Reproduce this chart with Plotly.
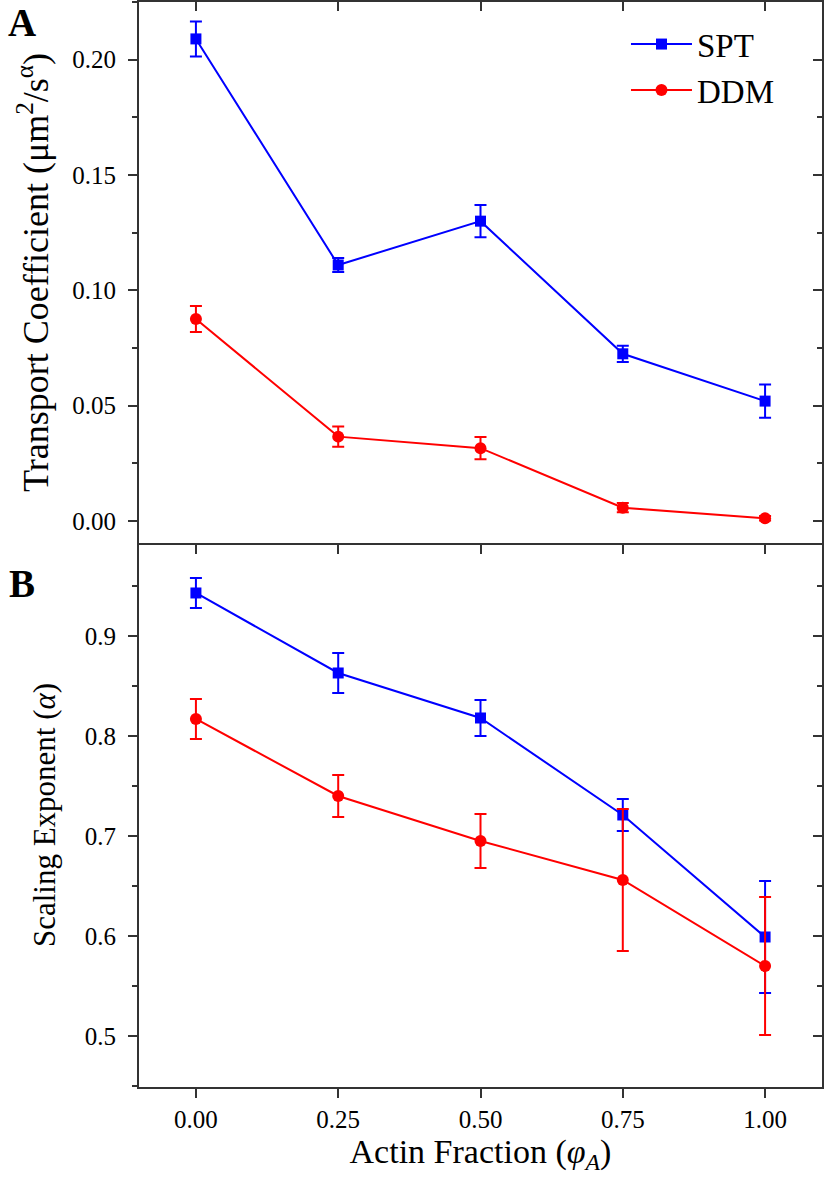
import plotly.graph_objects as go

# actin fraction (phi_A)
actin_fraction = [0.0, 0.25, 0.5, 0.75, 1.0]
x_ticks = [0.0, 0.25, 0.5, 0.75, 1.0]
x_tick_text = ['0.00', '0.25', '0.50', '0.75', '1.00']

# panel A: transport coefficient (um^2/s^alpha)
spt_transport = [0.209, 0.111, 0.130, 0.0725, 0.052]
spt_transport_err = [0.0076, 0.003, 0.007, 0.0035, 0.0072]
ddm_transport = [0.0876, 0.0366, 0.0316, 0.0058, 0.0012]
ddm_transport_err = [0.0056, 0.0044, 0.0048, 0.002, 0.001]

# panel B: scaling exponent (alpha)
spt_alpha = [0.943, 0.863, 0.818, 0.721, 0.599]
spt_alpha_err = [0.015, 0.020, 0.018, 0.016, 0.056]
ddm_alpha = [0.817, 0.740, 0.695, 0.656, 0.570]
ddm_alpha_err = [0.020, 0.021, 0.027, 0.071, 0.069]

BLUE = '#0000FF'
RED = '#FF0000'
AXIS = '#333333'
FONT = 'Liberation Serif, Times New Roman, serif'


def series(x, y, err, name, color, symbol, size, xa, ya, legend):
    return go.Scatter(
        x=x, y=y, name=name, mode='lines+markers',
        line=dict(color=color, width=2),
        marker=dict(symbol=symbol, size=size, color=color),
        error_y=dict(type='data', array=err, color=color, thickness=2, width=6),
        xaxis=xa, yaxis=ya, showlegend=legend
    )


fig = go.Figure()

fig.add_trace(series(actin_fraction, spt_transport, spt_transport_err,
                     'SPT', BLUE, 'square', 11, 'x', 'y', True))
fig.add_trace(series(actin_fraction, ddm_transport, ddm_transport_err,
                     'DDM', RED, 'circle', 12, 'x', 'y', True))
fig.add_trace(series(actin_fraction, spt_alpha, spt_alpha_err,
                     'SPT', BLUE, 'square', 11, 'x2', 'y2', False))
fig.add_trace(series(actin_fraction, ddm_alpha, ddm_alpha_err,
                     'DDM', RED, 'circle', 12, 'x2', 'y2', False))

# empty traces so the mirrored (top/right) frame axes get drawn
for xa, ya in [('x3', 'y3'), ('x4', 'y4')]:
    fig.add_trace(go.Scatter(x=[], y=[], xaxis=xa, yaxis=ya,
                             showlegend=False, hoverinfo='skip'))

x_range = [-0.1, 1.1]
ya_range = [-0.0095, 0.225]
yb_range = [0.449, 0.993]
split = 0.5014

common = dict(showline=True, linewidth=2, linecolor=AXIS, showgrid=False,
              zeroline=False, ticklen=9, tickwidth=2, tickcolor=AXIS,
              ticklabelstandoff=7,
              tickfont=dict(family=FONT, size=25, color='black'))

fig.update_layout(
    xaxis=dict(common, anchor='y', domain=[0, 1], range=x_range,
               tickvals=x_ticks, ticks='outside', showticklabels=False),
    yaxis=dict(common, anchor='x', domain=[split, 1], range=ya_range,
               tick0=0, dtick=0.05, tickformat='.2f', ticks='outside',
               minor=dict(dtick=0.025, ticks='outside', ticklen=5,
                          tickwidth=2, tickcolor=AXIS),
               title=dict(text='Transport Coefficient (μm<sup>2</sup>/s<sup>α</sup>)',
                          font=dict(family=FONT, size=36, color='black'),
                          standoff=13)),
    xaxis2=dict(common, anchor='y2', domain=[0, 1], range=x_range,
                tickvals=x_ticks, ticktext=x_tick_text, ticks='outside',
                ticklabelstandoff=0,
                title=dict(text='Actin Fraction (<i>φ</i><sub><i>A</i></sub>)',
                           font=dict(family=FONT, size=34, color='black'),
                           standoff=0)),
    yaxis2=dict(common, anchor='x2', domain=[0, split], range=yb_range,
                tick0=0, dtick=0.1, tickformat='.1f', ticks='outside',
                minor=dict(dtick=0.05, ticks='outside', ticklen=5,
                           tickwidth=2, tickcolor=AXIS),
                title=dict(text='Scaling Exponent (<i>α</i>)',
                           font=dict(family=FONT, size=31, color='black'),
                           standoff=20)),
    # mirrored frame sides with ticks pointing inward
    xaxis3=dict(common, overlaying='x', anchor='y', side='top', range=x_range,
                tickvals=x_ticks, ticks='inside', showticklabels=False),
    yaxis3=dict(common, overlaying='y', anchor='x', side='right', range=ya_range,
                tick0=0, dtick=0.05, ticks='inside', showticklabels=False,
                minor=dict(dtick=0.025, ticks='inside', ticklen=5,
                           tickwidth=2, tickcolor=AXIS)),
    xaxis4=dict(common, overlaying='x2', anchor='y2', side='top', range=x_range,
                tickvals=x_ticks, ticks='inside', showticklabels=False,
                showline=False),
    yaxis4=dict(common, overlaying='y2', anchor='x2', side='right', range=yb_range,
                tick0=0, dtick=0.1, ticks='inside', showticklabels=False,
                minor=dict(dtick=0.05, ticks='inside', ticklen=5,
                           tickwidth=2, tickcolor=AXIS)),
    legend=dict(x=0.713, y=0.987, xanchor='left', yanchor='top',
                bgcolor='rgba(0,0,0,0)', borderwidth=0, itemwidth=61,
                font=dict(family=FONT, size=33, color='black')),
    annotations=[
        dict(text='<b>A</b>', x=-0.171, y=0.981, xref='paper', yref='paper',
             xanchor='center', yanchor='middle', showarrow=False,
             font=dict(family=FONT, size=39, color='black')),
        dict(text='<b>B</b>', x=-0.171, y=0.4645, xref='paper', yref='paper',
             xanchor='center', yanchor='middle', showarrow=False,
             font=dict(family=FONT, size=39, color='black')),
    ],
    width=826, height=1200,
    margin=dict(l=139, r=4, t=2, b=113),
    plot_bgcolor='white', paper_bgcolor='white',
    font=dict(family=FONT, color='black'),
)

# drop the default page margin so the figure sits at the window's corner
fig.write_html("out.html", config={'displayModeBar': False},
               post_script="document.body.style.margin='0';")
